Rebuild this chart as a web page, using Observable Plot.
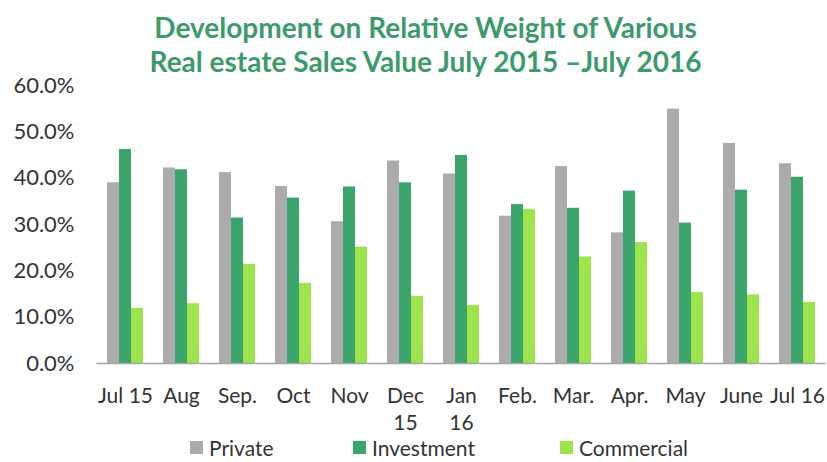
<!DOCTYPE html>
<html>
<head>
<meta charset="utf-8">
<script src="https://cdn.jsdelivr.net/npm/d3@7"></script>
<script src="https://cdn.jsdelivr.net/npm/@observablehq/plot@0.6"></script>
<style>
  html, body { margin: 0; padding: 0; background: #fff; }
  body { width: 827px; height: 462px; overflow: hidden; font-family: Lato, "Open Sans", sans-serif; }
  #title { height: 62px; text-align: center; color: #3c9a6c; font-weight: 700; font-size: 28px; line-height: 34px; padding-top: 10px; box-sizing: border-box; margin-left: 24px; white-space: nowrap; }
  #chart svg { display: block; }
  #legend { position: relative; height: 28px; font-size: 21px; color: #333; }
  .item { position: absolute; top: 0px; display: flex; align-items: center; height: 26px; }
  .sw { width: 13px; height: 13px; margin-right: 6px; }
</style>
</head>
<body>
<div id="title">Development on Relative Weight of Various<br>Real estate Sales Value July 2015 –July 2016</div>
<div id="chart"></div>
<div id="legend"></div>
<script>
const months = ["Jul 15", "Aug", "Sep.", "Oct", "Nov", "Dec\n15", "Jan\n16", "Feb.", "Mar.", "Apr.", "May", "June", "Jul 16"];
const series = ["Private", "Investment", "Commercial"];
const colors = ["#ababab", "#3aa46b", "#9de34c"];
const privateVals    = [39.0, 42.2, 41.2, 38.2, 30.6, 43.7, 40.9, 31.8, 42.5, 28.2, 54.9, 47.5, 43.1];
const investmentVals = [46.2, 41.8, 31.4, 35.7, 38.1, 39.0, 44.9, 34.3, 33.5, 37.2, 30.3, 37.4, 40.2];
const commercialVals = [11.9, 12.9, 21.4, 17.3, 25.1, 14.5, 12.5, 33.2, 23.0, 26.1, 15.3, 14.8, 13.2];
const yTicks = [0, 10, 20, 30, 40, 50, 60];

const valuesBySeries = [privateVals, investmentVals, commercialVals];
const data = [];
months.forEach((m, i) => series.forEach((s, j) => data.push({month: m, series: s, value: valuesBySeries[j][i]})));

const chart = Plot.plot({
  width: 827,
  height: 372,
  marginTop: 23,
  marginLeft: 96,
  marginRight: 1,
  marginBottom: 71,
  style: {fontFamily: "Lato, 'Open Sans', sans-serif", fontSize: "21px", color: "#333", background: "#fff"},
  fx: {domain: months, paddingInner: 0.041, paddingOuter: 0, label: null},
  x: {domain: series, paddingInner: 0, paddingOuter: 0.63, axis: null},
  y: {domain: [0, 60], label: null},
  color: {domain: series, range: colors},
  marks: [
    Plot.barY(data, {fx: "month", x: "series", y: "value", fill: "series"}),
    Plot.ruleY([0], {stroke: "#a6a6a6", strokeWidth: 1.5, insetLeft: -1.5, insetRight: -1.5}),
    Plot.axisY({ticks: yTicks, tickFormat: d => d.toFixed(1) + "%", tickSize: 0, tickPadding: 24, label: null, line: true, stroke: "#a6a6a6", fill: "#333", fontSize: 22, strokeWidth: 1.5}),
    Plot.axisFx({anchor: "bottom", tickSize: 0, tickPadding: 20, label: null, lineHeight: 1.3, fontSize: 21, fill: "#333"})
  ]
});
document.getElementById("chart").appendChild(chart);

const legend = document.getElementById("legend");
const lefts = [190, 353, 560];
series.forEach((s, j) => {
  const it = document.createElement("div");
  it.className = "item";
  it.style.left = lefts[j] + "px";
  it.innerHTML = `<span class="sw" style="background:${colors[j]}"></span><span>${s}</span>`;
  legend.appendChild(it);
});
</script>
</body>
</html>
